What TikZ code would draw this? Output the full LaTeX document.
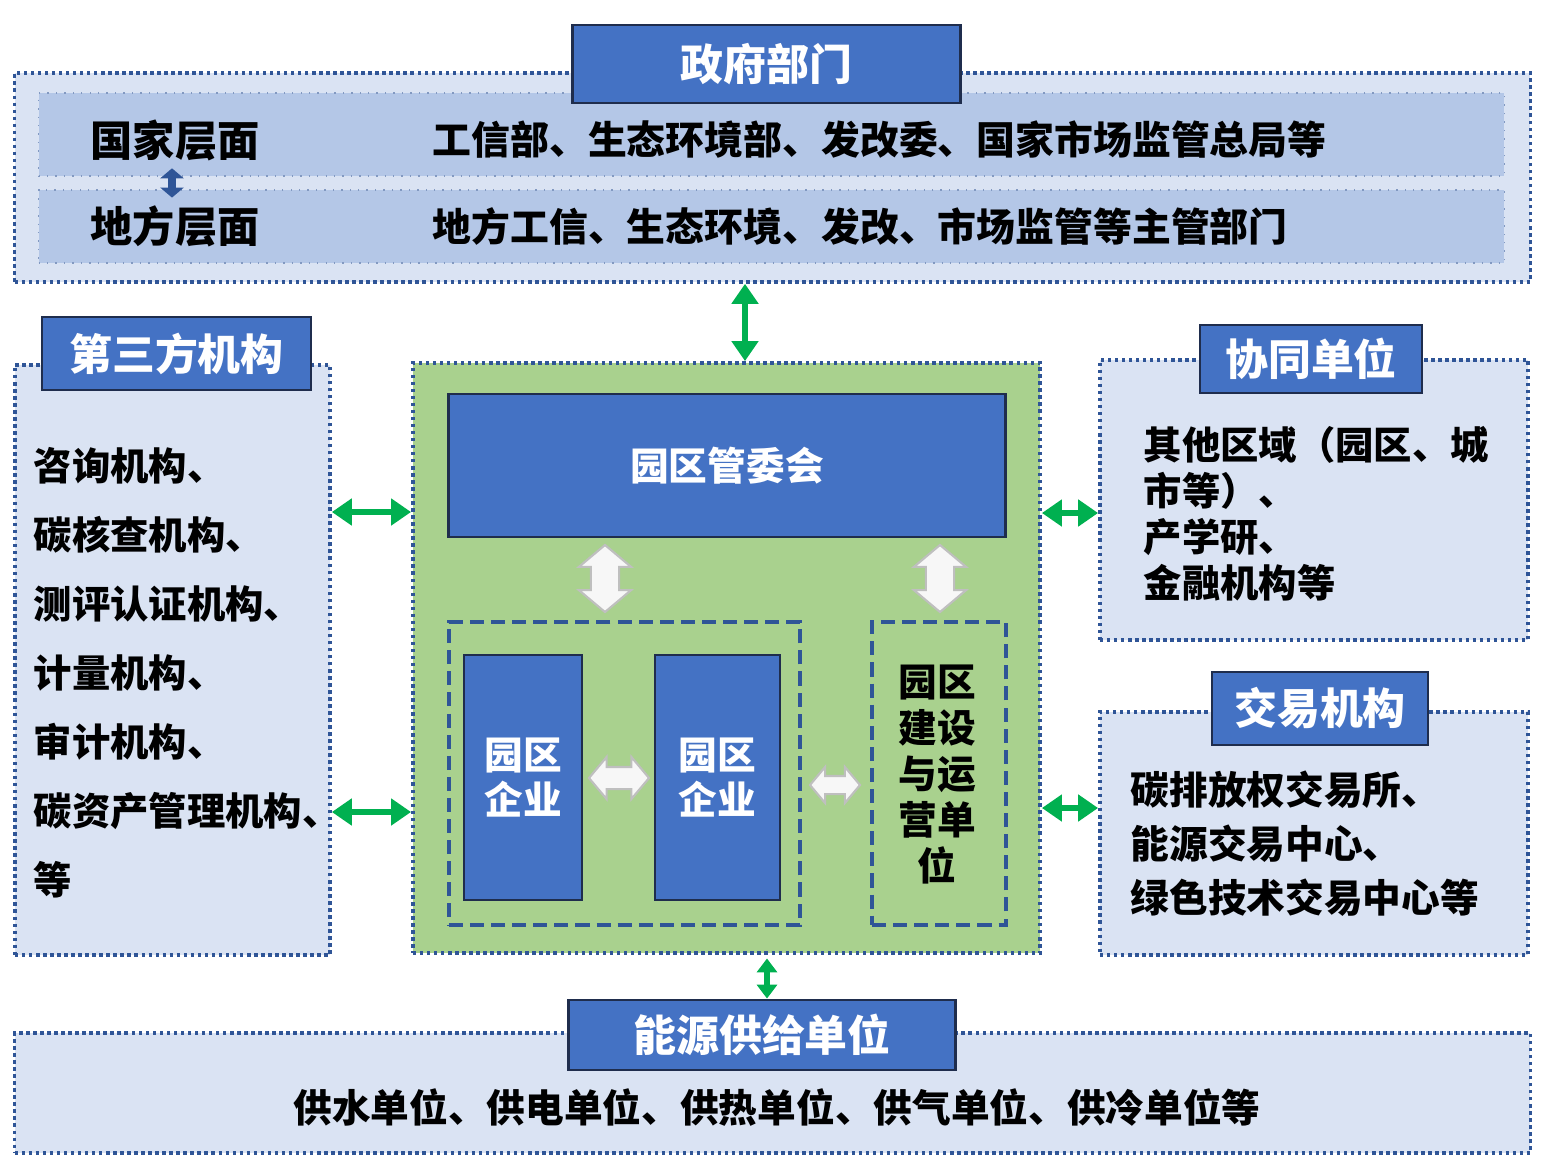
\documentclass[tikz,border=0pt]{standalone}
\usepackage{fontspec}
\setmainfont{Noto Sans CJK SC}
\usetikzlibrary{arrows.meta,shapes.arrows,positioning}

\definecolor{paleblue}{HTML}{DAE3F3}
\definecolor{rowblue}{HTML}{B4C7E7}
\definecolor{boxblue}{HTML}{4472C4}
\definecolor{edgeblue}{HTML}{2F5597}
\definecolor{navy}{HTML}{1F2D4D}
\definecolor{leaf}{HTML}{A9D18E}
\definecolor{arrowgreen}{HTML}{00B050}

\begin{document}
\begin{tikzpicture}[x=0.01cm, y=-0.01cm,
    panel/.style={draw=edgeblue, fill=paleblue, line width=1pt, dash pattern=on 1pt off 1pt, inner sep=0pt},
    rowbar/.style={draw=edgeblue!60, fill=rowblue, line width=0.4pt, dotted, inner sep=0pt},
    tag/.style={draw=navy, fill=boxblue, text=white, line width=0.8pt, inner sep=0pt},
    dashbox/.style={draw=edgeblue, line width=1.2pt, dash pattern=on 4pt off 2pt, inner sep=0pt},
    head/.style={font=\fontsize{12.2}{14}\selectfont\bfseries},
    body/.style={font=\fontsize{11}{13}\selectfont\bfseries, inner sep=0pt},
    garrow/.style={draw=arrowgreen, line width=1.7pt, {Triangle[length=2mm, width=2.6mm]}-{Triangle[length=2mm, width=2.6mm]}},
    warrow/.style={double arrow, draw=gray!50, fill=gray!6, line width=0.6pt, double arrow tip angle=100}]

    \useasboundingbox (0,0) rectangle (1550,1172);

    % Nodes
    \node[panel, minimum width=151.5mm, minimum height=20.9mm] at (772.5,177.5)  (gov)    {};
    \node[rowbar, minimum width=146.5mm, minimum height=8.3mm] at (771.5,134.5)  (nat)    {};
    \node[rowbar, minimum width=146.5mm, minimum height=7.3mm] at (771.5,226.5)  (loc)    {};
    \node[tag, head, minimum width=38.7mm, minimum height=7.8mm] at (766.5,64)  (govt)    {政府部门};

    \node[body, anchor=west, font=\fontsize{12}{14}\selectfont\bfseries] at (90,140)  (natl)    {国家层面};
    \node[body, anchor=west, font=\fontsize{11.05}{14}\selectfont\bfseries] at (432,140)  (natd)    {工信部、生态环境部、发改委、国家市场监管总局等};
    \node[body, anchor=west, font=\fontsize{12}{14}\selectfont\bfseries] at (90,226)  (locl)    {地方层面};
    \node[body, anchor=west, font=\fontsize{11.05}{14}\selectfont\bfseries] at (432,226)  (locd)    {地方工信、生态环境、发改、市场监管等主管部门};

    \node[panel, minimum width=31.5mm, minimum height=59mm] at (172.5,660)  (third)    {};
    \node[tag, head, minimum width=26.9mm, minimum height=7.3mm] at (176.5,353.5)  (thirdt)    {第三方机构};
    \node[body, anchor=west, align=left, font=\fontsize{10.9}{19.6}\selectfont\bfseries] at (33,673)  (thirdd)
        {咨询机构、\\碳核查机构、\\测评认证机构、\\计量机构、\\审计机构、\\碳资产管理机构、\\等};

    \node[panel, fill=leaf, minimum width=62.7mm, minimum height=59mm] at (726.5,658)  (park)    {};
    \node[tag, body, text=white, minimum width=55.6mm, minimum height=14.3mm] at (727,465.5)  (admin)    {园区管委会};
    \node[dashbox, minimum width=35.1mm, minimum height=30.3mm] at (624.5,773.5)  (firms)    {};
    \node[dashbox, minimum width=13.4mm, minimum height=30.3mm] at (939,773.5)  (ops)    {};
    \node[tag, body, text=white, align=center, font=\fontsize{11}{12.8}\selectfont\bfseries, minimum width=11.8mm, minimum height=24.5mm] at (523,777.5)  (firma)    {园区\\企业};
    \node[tag, body, text=white, align=center, font=\fontsize{11}{12.8}\selectfont\bfseries, minimum width=12.5mm, minimum height=24.5mm] at (717.5,777.5)  (firmb)    {园区\\企业};
    \node[body, align=center, font=\fontsize{11}{13.1}\selectfont\bfseries] at (937,774.5)  (opsd)    {园区\\建设\\与运\\营单\\位};

    \node[panel, minimum width=42.8mm, minimum height=28mm] at (1314,500)  (collab)    {};
    \node[tag, head, minimum width=22.2mm, minimum height=6.8mm] at (1311,359)  (collabt)    {协同单位};
    \node[body, anchor=west, align=left, font=\fontsize{10.9}{13.1}\selectfont\bfseries] at (1143,514)  (collabd)
        {其他区域（园区、城\\市等）、\\产学研、\\金融机构等};

    \node[panel, minimum width=42.8mm, minimum height=24.3mm] at (1314,833.5)  (trade)    {};
    \node[tag, head, minimum width=21.6mm, minimum height=7.3mm] at (1320,708.5)  (tradet)    {交易机构};
    \node[body, anchor=west, align=left, font=\fontsize{11}{15.4}\selectfont\bfseries] at (1130,844)  (traded)
        {碳排放权交易所、\\能源交易中心、\\绿色技术交易中心等};

    \node[panel, minimum width=151.5mm, minimum height=12mm] at (772.5,1093)  (energy)    {};
    \node[tag, head, minimum width=38.6mm, minimum height=7mm] at (762,1035)  (energyt)    {能源供给单位};
    \node[body] at (777,1108)  (energyd)    {供水单位、供电单位、供热单位、供气单位、供冷单位等};

    % White block arrows inside the park
    \node[warrow, rotate=90, inner sep=1.3mm, double arrow head extend=1.2mm, minimum height=6.7mm] at (605,578.5)  (wa)    {};
    \node[warrow, rotate=90, inner sep=1.3mm, double arrow head extend=1.2mm, minimum height=6.7mm] at (940,578.5)  (wb)    {};
    \node[warrow, inner sep=1mm, double arrow head extend=1mm, minimum height=6mm] at (619,778)  (wc)    {};
    \node[warrow, inner sep=0.8mm, double arrow head extend=0.9mm, minimum height=5mm] at (835,785)  (wd)    {};

    % Connectors
    \coordinate (hup) at (745,0);
    \coordinate (hlo) at (767,0);
    \coordinate (hin) at (172,0);
    \coordinate (lup) at (0,512);
    \coordinate (llo) at (0,812);
    \coordinate (rup) at (0,513);
    \coordinate (rlo) at (0,808);

    \draw[draw=edgeblue, line width=2pt, shorten <=2pt, shorten >=2pt, {Triangle[length=1mm, width=2.3mm]}-{Triangle[length=1mm, width=2.3mm]}] (natl.south -| hin) -- (locl.north -| hin);

    \draw[garrow]  (gov.south -| hup) -- (park.north -| hup);
    \draw[garrow]  (third.east |- lup) -- (park.west |- lup);
    \draw[garrow]  (third.east |- llo) -- (park.west |- llo);
    \draw[garrow]  (park.east |- rup) -- (collab.west |- rup);
    \draw[garrow]  (park.east |- rlo) -- (trade.west |- rlo);
    \draw[garrow, line width=1.5pt, {Triangle[length=1.4mm, width=2mm]}-{Triangle[length=1.4mm, width=2mm]}, shorten <=1pt]  (park.south -| hlo) -- (energyt.north -| hlo);
\end{tikzpicture}
\end{document}
